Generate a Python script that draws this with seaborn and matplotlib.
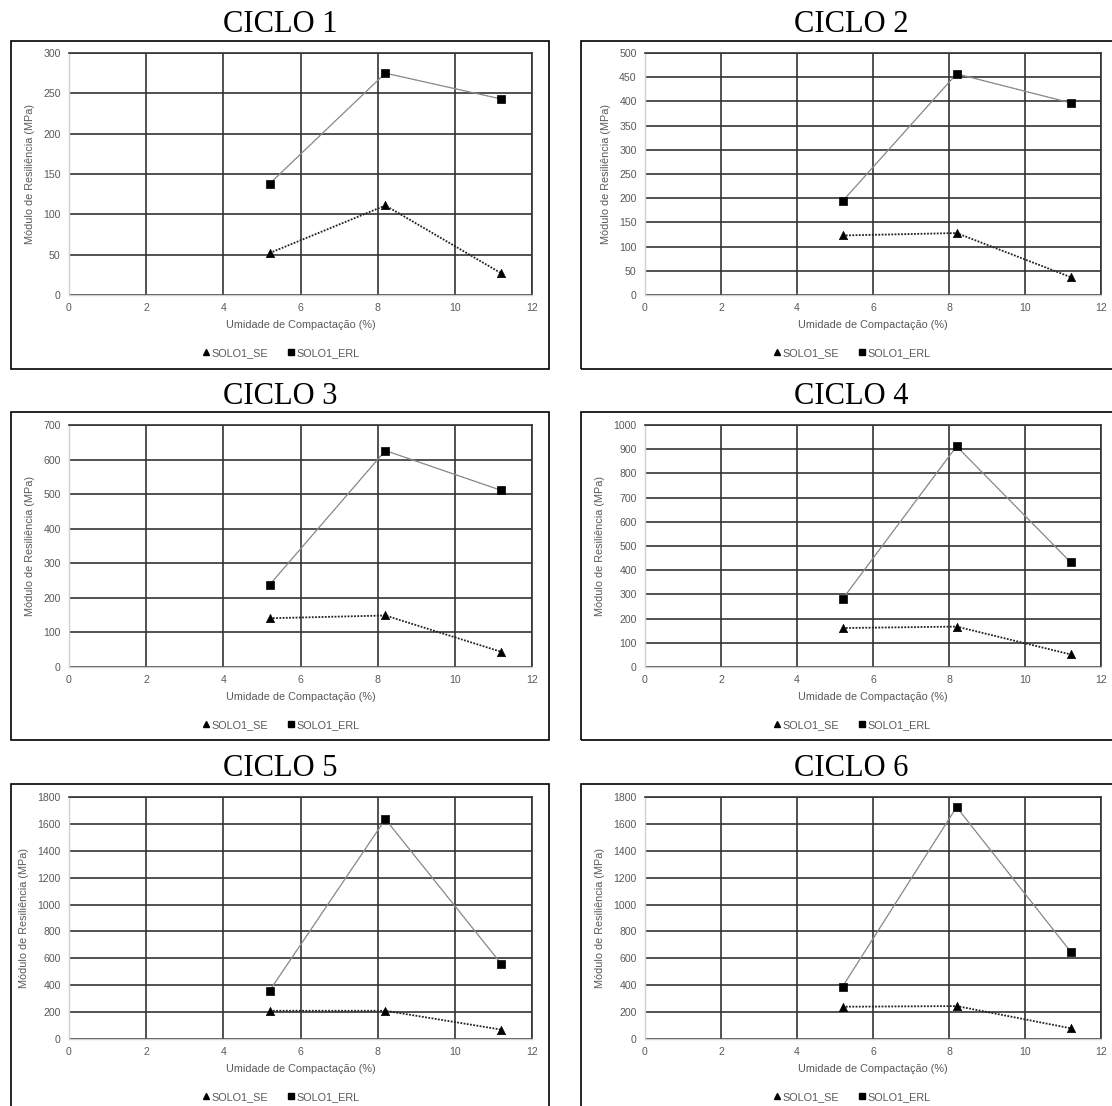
import numpy as np
import pandas as pd
import matplotlib.pyplot as plt
import seaborn as sns
from matplotlib.patches import Rectangle
from matplotlib.lines import Line2D

# dados
umidade = [5.2, 8.2, 11.2]
ciclos = ['CICLO 1', 'CICLO 2', 'CICLO 3', 'CICLO 4', 'CICLO 5', 'CICLO 6']
solo1_se = [[52, 111, 27], [123, 128, 37], [141, 149, 44],
            [161, 167, 52], [210, 210, 70], [240, 245, 80]]
solo1_erl = [[138, 275, 243], [194, 457, 397], [238, 626, 511],
             [281, 912, 433], [360, 1635, 560], [390, 1725, 650]]
y_max = [300, 500, 700, 1000, 1800, 1800]
y_passo = [50, 50, 100, 100, 200, 200]
x_ticks = [0, 2, 4, 6, 8, 10, 12]

sns.set_style('white')
plt.rcParams['font.family'] = ['Liberation Sans', 'DejaVu Sans']

W, H = 1112, 1106
fig = plt.figure(figsize=(W / 100, H / 100), dpi=100)

# posicoes em pixels
col_x0 = [69, 645]
col_x1 = [532, 1101]
box_l = [11, 581]
box_r = [549, 1121]
row_top = [53, 425, 797]
row_bot = [295, 667, 1039]
box_top = [41, 412, 784]
box_bot = [369, 740, 1112]

cinza = '#595959'

for i, ciclo in enumerate(ciclos):
    r, c = i // 2, i % 2
    centro_box = (box_l[c] + box_r[c]) / 2 / W
    # moldura do grafico
    fig.patches.append(Rectangle((box_l[c] / W, 1 - box_bot[r] / H),
                                 (box_r[c] - box_l[c]) / W,
                                 (box_bot[r] - box_top[r]) / H,
                                 transform=fig.transFigure, fill=False,
                                 edgecolor='black', linewidth=1.2, zorder=0))
    fig.text(centro_box, 1 - (32 + r * 372) / H, ciclo, color='black',
             ha='center', va='baseline', fontsize=22, family='Liberation Serif')

    ax = fig.add_axes([col_x0[c] / W, 1 - row_bot[r] / H,
                       (col_x1[c] - col_x0[c]) / W,
                       (row_bot[r] - row_top[r]) / H])
    df = pd.DataFrame({'Umidade': umidade * 2,
                       'MR': solo1_se[i] + solo1_erl[i],
                       'Serie': ['SOLO1_SE'] * 3 + ['SOLO1_ERL'] * 3})
    se = df[df['Serie'] == 'SOLO1_SE']
    erl = df[df['Serie'] == 'SOLO1_ERL']

    sns.lineplot(data=erl, x='Umidade', y='MR', ax=ax, color='#9a9a9a',
                 linewidth=0.9, zorder=3)
    sns.lineplot(data=erl, x='Umidade', y='MR', ax=ax, color='#404040',
                 linewidth=0.8, linestyle=(0, (1, 1.2)), alpha=0.4, zorder=3)
    sns.lineplot(data=se, x='Umidade', y='MR', ax=ax, color='#222222',
                 linewidth=1.3, linestyle=(0, (1, 0.8)), zorder=3)
    sns.scatterplot(data=erl, x='Umidade', y='MR', ax=ax, marker='s', s=38,
                    color='black', edgecolor='black', zorder=4)
    sns.scatterplot(data=se, x='Umidade', y='MR', ax=ax, marker='^', s=36,
                    color='black', edgecolor='black', zorder=4)

    ax.set_xlim(0, 12)
    ax.set_ylim(0, y_max[i])
    ax.set_xticks(x_ticks)
    ax.set_yticks(np.arange(0, y_max[i] + 1, y_passo[i]))
    ax.grid(True, color='#333333', linewidth=1.2)
    ax.set_axisbelow(True)
    for lado in ['top', 'right']:
        ax.spines[lado].set_color('#333333')
        ax.spines[lado].set_linewidth(1.2)
    for lado in ['left', 'bottom']:
        ax.spines[lado].set_color('#d0d0d0')
        ax.spines[lado].set_linewidth(1.0)
    ax.tick_params(length=0, labelsize=7.6, labelcolor=cinza, pad=6)
    ax.set_xlabel('Umidade de Compactação (%)', fontsize=7.8, color=cinza,
                  labelpad=5)
    ax.set_ylabel('Módulo de Resiliência (MPa)', fontsize=7.8, color=cinza,
                  labelpad=6)

    handles = [Line2D([], [], marker='^', color='black', linestyle='none',
                      markersize=5),
               Line2D([], [], marker='s', color='black', linestyle='none',
                      markersize=5)]
    fig.legend(handles, ['SOLO1_SE', 'SOLO1_ERL'], ncol=2, frameon=False,
               loc='center',
               bbox_to_anchor=(centro_box, 1 - (row_top[r] + 300) / H),
               fontsize=7.8, labelcolor=cinza, handletextpad=0.0,
               columnspacing=1.6, handlelength=1.0)

fig.savefig('out.png', dpi=100)
